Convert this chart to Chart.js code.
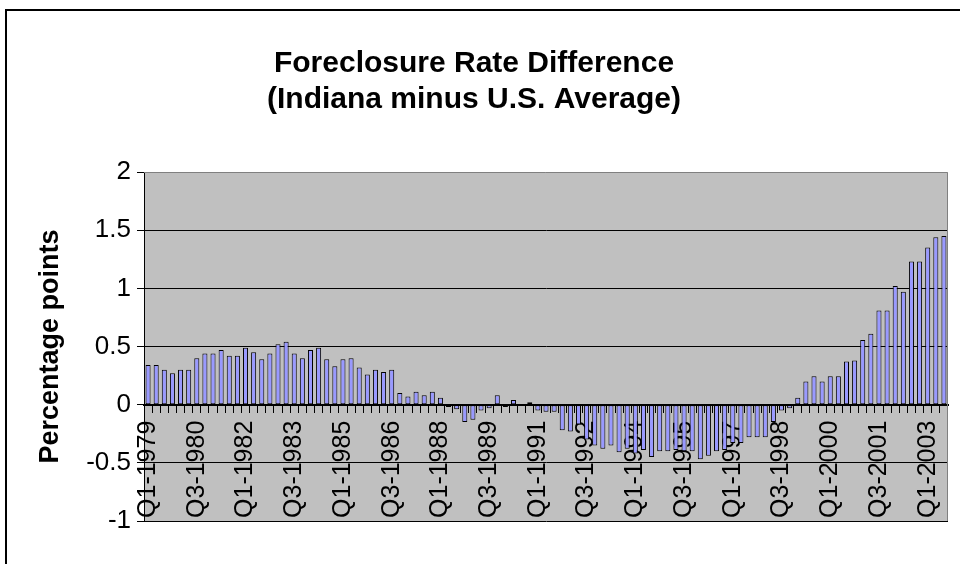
<!DOCTYPE html>
<html><head><meta charset="utf-8">
<script src="https://cdn.jsdelivr.net/npm/chart.js@4.4.1/dist/chart.umd.min.js"></script>
<style>html,body{margin:0;padding:0;background:#fff;}#wrap{width:960px;height:564px;position:relative;}</style>
</head><body><div id="wrap"><canvas id="c" width="960" height="564"></canvas></div>
<script>
const categories = [
"Q1-1979","Q2-1979","Q3-1979","Q4-1979","Q1-1980","Q2-1980","Q3-1980","Q4-1980",
"Q1-1981","Q2-1981","Q3-1981","Q4-1981","Q1-1982","Q2-1982","Q3-1982","Q4-1982",
"Q1-1983","Q2-1983","Q3-1983","Q4-1983","Q1-1984","Q2-1984","Q3-1984","Q4-1984",
"Q1-1985","Q2-1985","Q3-1985","Q4-1985","Q1-1986","Q2-1986","Q3-1986","Q4-1986",
"Q1-1987","Q2-1987","Q3-1987","Q4-1987","Q1-1988","Q2-1988","Q3-1988","Q4-1988",
"Q1-1989","Q2-1989","Q3-1989","Q4-1989","Q1-1990","Q2-1990","Q3-1990","Q4-1990",
"Q1-1991","Q2-1991","Q3-1991","Q4-1991","Q1-1992","Q2-1992","Q3-1992","Q4-1992",
"Q1-1993","Q2-1993","Q3-1993","Q4-1993","Q1-1994","Q2-1994","Q3-1994","Q4-1994",
"Q1-1995","Q2-1995","Q3-1995","Q4-1995","Q1-1996","Q2-1996","Q3-1996","Q4-1996",
"Q1-1997","Q2-1997","Q3-1997","Q4-1997","Q1-1998","Q2-1998","Q3-1998","Q4-1998",
"Q1-1999","Q2-1999","Q3-1999","Q4-1999","Q1-2000","Q2-2000","Q3-2000","Q4-2000",
"Q1-2001","Q2-2001","Q3-2001","Q4-2001","Q1-2002","Q2-2002","Q3-2002","Q4-2002",
"Q1-2003","Q2-2003","Q3-2003"
];
const rateDifference = [
0.34,0.34,0.30,0.27,0.30,0.30,0.40,0.44,
0.44,0.47,0.42,0.42,0.49,0.45,0.39,0.44,
0.52,0.54,0.44,0.40,0.47,0.49,0.39,0.33,
0.39,0.40,0.32,0.26,0.30,0.28,0.30,0.10,
0.07,0.11,0.08,0.11,0.06,-0.02,-0.04,-0.15,
-0.13,-0.05,-0.03,0.08,-0.02,0.04,-0.01,0.02,
-0.05,-0.06,-0.06,-0.22,-0.23,-0.17,-0.30,-0.35,
-0.38,-0.35,-0.41,-0.38,-0.42,-0.39,-0.45,-0.40,
-0.40,-0.39,-0.40,-0.40,-0.47,-0.44,-0.40,-0.39,
-0.33,-0.33,-0.28,-0.28,-0.28,-0.15,-0.05,-0.03,
0.06,0.20,0.245,0.20,0.245,0.245,0.37,0.38,
0.555,0.61,0.81,0.81,1.02,0.97,1.23,1.23,
1.35,1.44,1.45
];
const shownTickLabels = ["Q1-1979","Q3-1980","Q1-1982","Q3-1983","Q1-1985","Q3-1986","Q1-1988","Q3-1989","Q1-1991","Q3-1992","Q1-1994","Q3-1995","Q1-1997","Q3-1998","Q1-2000","Q3-2001","Q1-2003"];
const yTicks = [2,1.5,1,0.5,0,-0.5,-1];
const titleLines = ["Foreclosure Rate Difference","(Indiana minus U.S. Average)"];
const yTitle = "Percentage points";

const FONT = "'Liberation Sans', Arial, sans-serif";

const framePlugin = {
  id: 'frame',
  beforeDraw(chart) {
    const {ctx, chartArea: a} = chart;
    ctx.save();
    ctx.fillStyle = '#fff';
    ctx.fillRect(0, 0, chart.width, chart.height);
    ctx.strokeStyle = '#000';
    ctx.lineWidth = 2;
    ctx.beginPath();
    ctx.moveTo(6, chart.height);
    ctx.lineTo(6, 10);
    ctx.lineTo(chart.width, 10);
    ctx.stroke();
    ctx.fillStyle = '#C0C0C0';
    ctx.fillRect(a.left, a.top, a.right - a.left, a.bottom - a.top);
    ctx.restore();
  },
  beforeDatasetsDraw(chart) {
    const {ctx, chartArea: a} = chart;
    ctx.save();
    ctx.strokeStyle = '#808080';
    ctx.lineWidth = 1;
    ctx.beginPath();
    ctx.moveTo(a.left, a.top + 0.5);
    ctx.lineTo(a.right - 0.5, a.top + 0.5);
    ctx.lineTo(a.right - 0.5, a.bottom);
    ctx.stroke();
    ctx.restore();
  }
};

new Chart(document.getElementById('c'), {
  type: 'bar',
  data: {
    labels: categories,
    datasets: [{
      data: rateDifference,
      backgroundColor: '#9999FF',
      borderColor: '#000',
      borderWidth: 1,
      borderSkipped: false,
      categoryPercentage: 1.0,
      barPercentage: 0.62
    }]
  },
  options: {
    responsive: false,
    animation: false,
    devicePixelRatio: 1,
    layout: { padding: { left: 0, right: 12, top: 0, bottom: 43 } },
    plugins: {
      legend: { display: false },
      tooltip: { enabled: false },
      title: {
        display: true,
        text: titleLines,
        color: '#000',
        font: { family: FONT, size: 30, weight: 'bold', lineHeight: 1.2 },
        padding: { top: 46, bottom: 54 }
      }
    },
    scales: {
      x: {
        position: { y: 0 },
        afterFit(s) { s.paddingLeft = 0; s.paddingRight = 0; },
        grid: { display: true, drawOnChartArea: false, drawTicks: true, tickLength: 7, color: '#000', lineWidth: 1 },
        border: { display: true, color: '#000', width: 2 },
        ticks: {
          autoSkip: false, maxRotation: 90, minRotation: 90, padding: 9,
          color: '#000',
          font: { family: FONT, size: 25 },
          callback: function(v, i) { const l = categories[i]; return shownTickLabels.includes(l) ? l : ''; }
        }
      },
      y: {
        min: -1, max: 2,
        afterFit(s) { s.width = 144; },
        afterBuildTicks(s) { s.ticks = yTicks.map(v => ({ value: v })); },
        grid: {
          color: (c) => (c.tick && c.tick.value === 2) ? 'rgba(0,0,0,0)' : '#000',
          tickColor: '#000',
          lineWidth: 1, drawTicks: true, tickLength: 7
        },
        border: { display: true, color: '#000', width: 1 },
        ticks: {
          padding: 6, color: '#000',
          font: { family: FONT, size: 26 },
          callback: (v) => String(v)
        },
        title: {
          display: true, text: yTitle, color: '#000',
          font: { family: FONT, size: 27, weight: 'bold', lineHeight: 1.2 },
          padding: { top: 34, bottom: 0 }
        }
      }
    }
  },
  plugins: [framePlugin]
});
</script></body></html>
